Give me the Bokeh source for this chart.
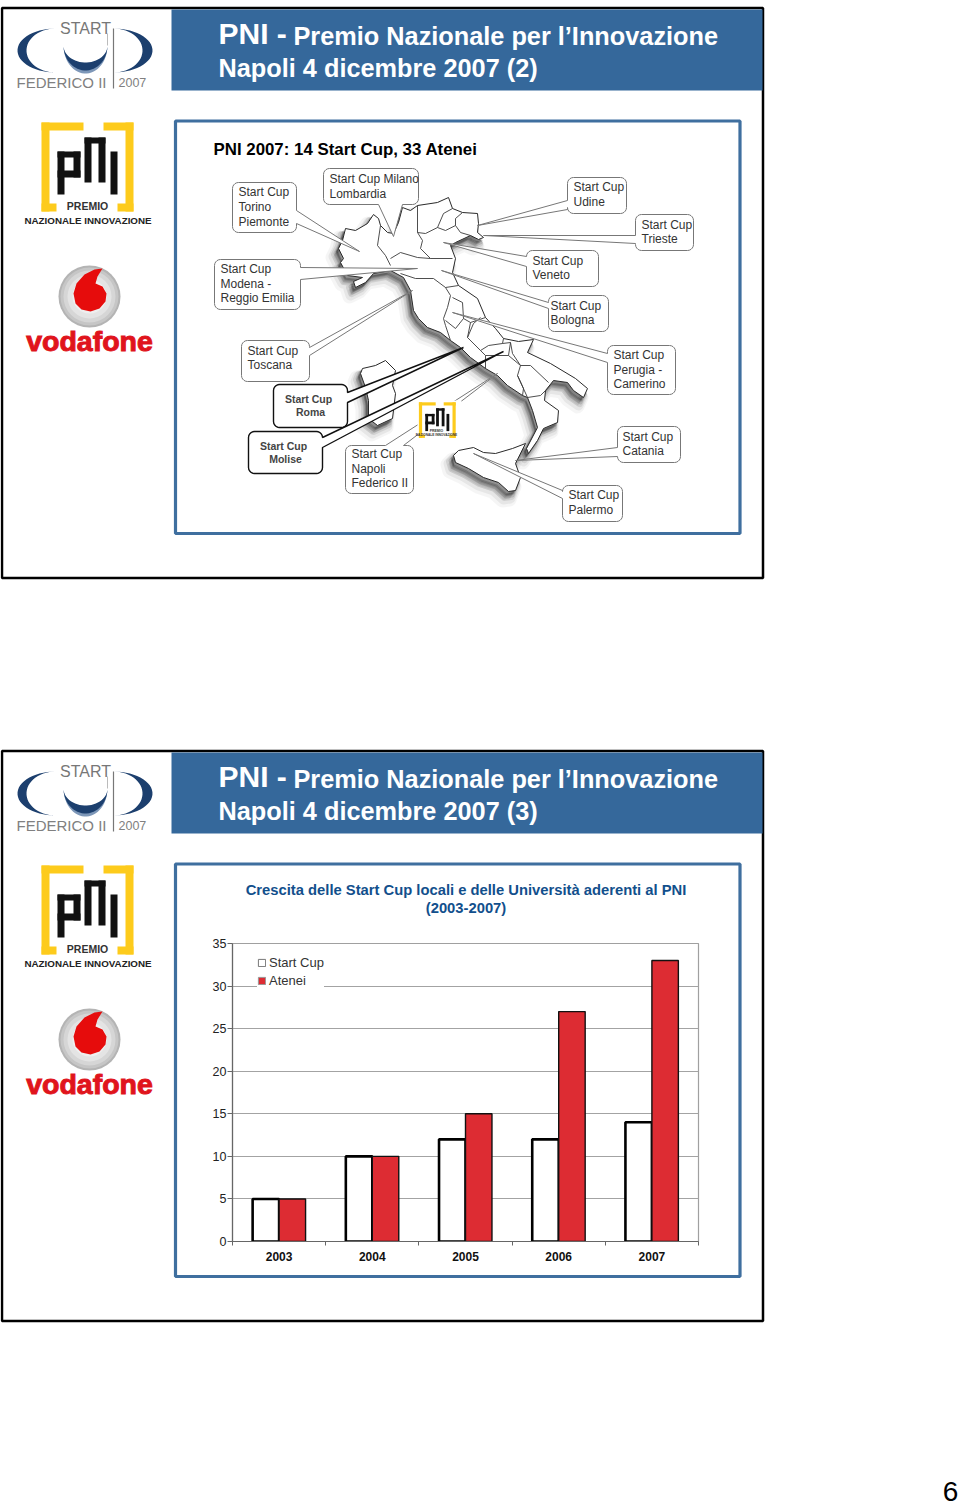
import numpy as np
from bokeh.core.properties import value
from bokeh.embed import file_html
from bokeh.layouts import column
from bokeh.models import ColumnDataSource, FixedTicker, Legend, LegendItem, LinearAxis, Range1d
from bokeh.plotting import figure
from bokeh.resources import INLINE
from bokeh.transform import dodge

# ---------- chart data ----------
YEARS = ["2003", "2004", "2005", "2006", "2007"]
START_CUP = [5, 10, 12, 12, 14]
ATENEI = [5, 10, 15, 27, 33]
Y_TICKS = [0, 5, 10, 15, 20, 25, 30, 35]
CHART_TITLE = ["Crescita delle Start Cup locali e delle Università aderenti al PNI", "(2003-2007)"]

# ---------- texts ----------
HEAD_A = "PNI - "
HEAD_B = "Premio Nazionale per l\u2019Innovazione"
HEAD_C = ["Napoli 4 dicembre 2007 (2)", "Napoli 4 dicembre 2007 (3)"]
MAP_TITLE = "PNI 2007: 14 Start Cup, 33 Atenei"

# ---------- colours ----------
BLUE = "#35689b"
FRAME = "#3f6f9f"
RED = "#dd2c33"
SANS = "Liberation Sans"

# callouts: box, pointer edge, pointer start/end along the edge, pointer tip, text lines, text x, text ys
CALLOUTS = [
    (232, 182, 296, 232, "R", 210, 223, 359, 251, ["Start Cup", "Torino", "Piemonte"], 238, [192, 207, 222]),
    (323, 168, 418, 204, "B", 378, 402, 393, 236, ["Start Cup Milano", "Lombardia"], 329, [179, 194]),
    (214, 259, 300, 309, "R", 267, 279, 417, 268, ["Start Cup", "Modena -", "Reggio Emilia"], 220, [269, 284, 298]),
    (241, 340, 309, 381, "R", 347, 355, 412, 290, ["Start Cup", "Toscana"], 247, [351, 365]),
    (345, 445, 413, 493, "T", 385, 403, 497, 373, ["Start Cup", "Napoli", "Federico II"], 351, [454, 469, 483]),
    (567, 177, 626, 213, "L", 200, 209, 477, 225, ["Start Cup", "Udine"], 573, [187, 202]),
    (635, 214, 693, 250, "L", 235, 243, 483, 235, ["Start Cup", "Trieste"], 641, [225, 239]),
    (526, 250, 598, 286, "L", 256, 266, 443, 242, ["Start Cup", "Veneto"], 532, [261, 275]),
    (548, 295, 608, 331, "L", 302, 308, 441, 270, ["Start Cup", "Bologna"], 550, [306, 320]),
    (607, 345, 675, 394, "L", 353, 362, 452, 312, ["Start Cup", "Perugia -", "Camerino"], 613, [355, 370, 384]),
    (617, 426, 680, 462, "L", 447, 456, 515, 460, ["Start Cup", "Catania"], 622, [437, 451]),
    (562, 485, 622, 521, "L", 490, 498, 473, 453, ["Start Cup", "Palermo"], 568, [495, 510]),
]
BOLD_CALLOUTS = [
    (273, 384, 347, 427, "R", 392, 402, 463, 347, ["Start Cup", "Roma"], [308, 310], [399, 412]),
    (248, 431, 322, 473, "R", 437, 447, 503, 351, ["Start Cup", "Molise"], [283, 285], [446, 459]),
]

# map outlines
MAINLAND = [(338,248),(342,240),(345,228),(355,230),(367,223),(373,214),(378,218),(380,225),(387,232),(393,233),
            (398,222),(402,207),(410,210),(417,205),(437,202),(448,197),(452,208),(462,212),(477,213),(478,223),
            (477,232),(483,237),(478,239),(470,235),(455,242),(450,245),(455,258),(452,272),(458,285),(477,298),
            (485,317),(495,328),(503,338),(518,341),(533,339),(527,352),(550,363),(575,378),(587,388),(583,397),
            (573,390),(567,382),(553,380),(545,390),(544,400),(558,410),(557,422),(543,428),(537,440),(528,453),
            (526,448),(537,427),(532,410),(527,397),(522,395),(507,385),(497,375),(485,368),(470,357),(460,347),
            (450,340),(440,332),(427,327),(418,318),(413,310),(410,290),(403,277),(390,270),(373,273),(365,282),
            (355,287),(353,281),(362,277),(347,275),(340,262),(343,258)]
SICILY = [(453,455),(458,450),(473,447),(483,452),(495,453),(512,448),(525,443),(515,463),(520,477),(515,490),
          (508,491),(498,482),(483,477),(468,468),(455,462)]
SARDINIA = [(362,368),(375,365),(385,360),(395,370),(392,385),(395,393),(392,418),(377,425),(368,418),(368,400),
            (365,387),(360,373)]
REGION_LINES = [
    [(380,225),(377,245),(385,255),(390,265)],
    [(390,258),(400,252),(417,257),(430,258),(452,258)],
    [(417,205),(417,232),(425,233),(437,227),(443,213),(452,208)],
    [(417,232),(422,240),(420,248),(430,258)],
    [(462,212),(455,218),(455,225),(460,232),(470,235)],
    [(437,227),(445,230),(455,225)],
    [(400,273),(415,278),(433,278),(445,287),(458,285)],
    [(445,287),(450,295),(447,307),(443,318),(445,325),(450,340)],
    [(452,297),(462,302),(463,318),(455,328),(445,320)],
    [(463,318),(470,322),(485,317)],
    [(470,322),(467,337),(473,323),(480,317)],
    [(467,337),(480,350),(488,345),(502,343),(503,338)],
    [(480,350),(485,355),(485,368)],
    [(502,343),(510,342),(508,355),(485,355)],
    [(508,355),(520,365),(517,375),(523,388),(522,395)],
    [(510,342),(512,353),(520,365),(530,365),(548,382)],
    [(517,375),(527,397),(540,395),(545,390)],
]


def arc(cx, cy, rx, ry, a0, a1, n=30):
    t = np.radians(np.linspace(a0, a1, n))
    return list(cx + rx * np.cos(t)), list(cy + ry * np.sin(t))


def xy(points, dy=0):
    return [p[0] for p in points], [p[1] + dy for p in points]


def callout_path(x0, y0, x1, y1, edge, a, b, tx, ty, r=6):
    xs, ys = [], []
    def add(xa, ya):
        xs.extend(xa); ys.extend(ya)
    add(*arc(x0 + r, y0 + r, r, r, 180, 270, 6))
    if edge == "T":
        add([a, tx, b], [y0, ty, y0])
    add(*arc(x1 - r, y0 + r, r, r, 270, 360, 6))
    if edge == "R":
        add([x1, tx, x1], [a, ty, b])
    add(*arc(x1 - r, y1 - r, r, r, 0, 90, 6))
    if edge == "B":
        add([b, tx, a], [y1, ty, y1])
    add(*arc(x0 + r, y1 - r, r, r, 90, 180, 6))
    if edge == "L":
        add([x0, tx, x0], [b, ty, a])
    return xs, ys


page = figure(width=960, height=1506, x_range=Range1d(0, 960), y_range=Range1d(1506, 0),
              x_axis_location=None, y_axis_location=None, toolbar_location=None, output_backend="svg",
              min_border=0, min_border_left=0, min_border_right=0, min_border_top=0, min_border_bottom=0,
              outline_line_color=None, frame_align=False)
page.grid.visible = False


def text(x, y, s, size, color="#000000", style="normal", align="left", font=SANS, outline=None):
    page.text([x], [y - 1], text=[s], text_font=value(font), text_font_size=value(f"{size}px"),
              text_color=color, text_font_style=style, text_align=align, text_baseline="middle",
              text_outline_color=outline)


def box(x0, y0, x1, y1, color):
    page.quad(left=[x0], right=[x1], top=[y0], bottom=[y1], fill_color=color, line_color=None)


def crescent(cx, cy, rx_out, ry_out, rx_in, ry_in, a0, a1, color):
    xa, ya = arc(cx, cy, rx_out, ry_out, a0, a1)
    xb, yb = arc(cx, cy, rx_in, ry_in, a1, a0)
    page.patch(xa + xb, ya + yb, fill_color=color, line_color=None)


def pni_logo(dy, x0=0.0, y0=0.0, k=1.0):
    def B(a, b, c, d, col):
        page.quad(left=[x0 + a * k], right=[x0 + c * k], top=[y0 + dy + b * k], bottom=[y0 + dy + d * k],
                  fill_color=col, line_color=None)
    Y = "#fdcb1c"
    for r in [(41, 122, 83, 130), (41, 122, 49, 211), (41, 203, 56, 211),
              (103, 122, 133, 130), (125, 122, 133, 211), (117, 203, 133, 211)]:
        B(*r, Y)
    K = "#111111"
    for r in [(57, 151, 64, 194), (57, 151, 80, 157), (73, 151, 80, 177), (57, 170, 80, 177),
              (84, 137, 91, 182), (84, 137, 105, 143), (98, 137, 105, 182), (110, 151, 117, 194)]:
        B(*r, K)


def slide(dy, idx):
    # slide border
    page.quad(left=[1.5], right=[762.5], top=[7.5 + dy], bottom=[577.5 + dy], fill_color="#ffffff",
              line_color="#000000", line_width=2.5)
    # header band
    box(171, 9 + dy, 762, 90 + dy, BLUE)
    text(218, 34 + dy, HEAD_A.strip(), 30, "#ffffff", "bold")
    text(293, 36 + dy, HEAD_B, 25.3, "#ffffff", "bold")
    text(218, 68 + dy, HEAD_C[idx], 25.3, "#ffffff", "bold")
    # content frame
    page.quad(left=[175], right=[739.5], top=[120.5 + dy], bottom=[533 + dy], fill_color="#ffffff",
              line_color=FRAME, line_width=3.2)

    # Start Cup logo
    navy = "#1c3f6e"
    crescent(55, 50 + dy, 38, 22, 29, 22, 90, 270, navy)
    crescent(113, 50 + dy, 39, 22, 29, 22, -90, 90, navy)
    crescent(85, 45 + dy, 22, 28, 22, 19, 0, 180, "#7d97b8")
    crescent(85, 45 + dy, 22, 25, 22, 17, 0, 180, navy)
    page.segment([113], [28 + dy], [113], [88 + dy], line_color="#777777", line_width=1.2)
    page.segment([107], [33 + dy], [107], [45 + dy], line_color="#bbbbbb", line_width=1)
    text(85, 29 + dy, "START", 16, "#777777", align="center")
    text(16, 83 + dy, "FEDERICO II", 15, "#808080")
    text(118, 83 + dy, "2007", 12.5, "#808080")

    # PNI logo
    pni_logo(dy)
    text(87, 206 + dy, "PREMIO", 10.5, "#333333", "bold", "center")
    text(87.5, 221 + dy, "NAZIONALE INNOVAZIONE", 9.8, "#222222", "bold", "center")

    # Vodafone logo
    for r, col in [(31, "#b4b4b4"), (29, "#c6c6c6"), (26, "#d6d6d6"), (22, "#e4e4e4"), (17, "#efefef")]:
        page.scatter([89], [296 + dy], size=2 * r, marker="circle", fill_color=col, line_color=None)
    drop = [(102, 268), (94, 269), (84, 274), (76, 283), (73, 293), (75, 303), (81, 309), (90, 311), (99, 308),
            (105, 301), (106, 293), (102, 286), (95, 283), (97, 276)]
    page.patch(*xy(drop, dy), fill_color="#e60c0c", line_color=None)
    text(89, 341 + dy, "vodafone", 28.5, "#e0141c", "bold", "center", outline="#e0141c")


slide(0, 0)
slide(743, 1)

# map shadow
SHADOW_LAYERS = [((-6, 9), 14, 0.04), ((-5, 8), 10, 0.06), ((-4, 6), 7, 0.09), ((-3, 5), 4, 0.13), ((-2, 3), 2, 0.2)]
for poly in (MAINLAND, SICILY, SARDINIA):
    px, py = xy(poly)
    for off, width, alpha in SHADOW_LAYERS:
        page.patch([a + off[0] for a in px], [b + off[1] for b in py], fill_color="#000000", fill_alpha=alpha,
                   line_color="#000000", line_alpha=alpha, line_width=width, line_join="round")
for poly in (MAINLAND, SICILY, SARDINIA):
    page.patch(*xy(poly), fill_color="#ffffff", line_color="#2a2a2a", line_width=1, line_join="round")
page.multi_line([xy(l)[0] for l in REGION_LINES], [xy(l)[1] for l in REGION_LINES], line_color="#3a3a3a",
                line_width=0.9, line_join="round")

text(213, 150, MAP_TITLE, 16.85, "#000000", "bold")

for c in CALLOUTS:
    x0, y0, x1, y1, edge, a, b, tx, ty, lines, lx, lys = c
    page.patch(*callout_path(x0, y0, x1, y1, edge, a, b, tx, ty), fill_color="#ffffff", line_color="#777777", line_width=1)
    for s, ly in zip(lines, lys):
        text(lx, ly, s, 12, "#333333")
for c in BOLD_CALLOUTS:
    x0, y0, x1, y1, edge, a, b, tx, ty, lines, lxs, lys = c
    page.patch(*callout_path(x0, y0, x1, y1, edge, a, b, tx, ty), fill_color="#ffffff", line_color="#111111", line_width=1.4)
    for s, lx, ly in zip(lines, lxs, lys):
        text(lx, ly, s, 10.5, "#444444", "bold", "center")

# small logo on the map
page.quad(left=[417], right=[461], top=[400], bottom=[438], fill_color="#ffffff", line_color=None)
pni_logo(0, 402.0, 353.0, 0.4)
text(436, 431, "PREMIO", 3.4, "#333333", "bold", "center")
text(436, 435, "NAZIONALE INNOVAZIONE", 3.2, "#333333", "bold", "center")

text(465.5, 890, CHART_TITLE[0], 14.77, "#124f8c", "bold", "center")
text(465.5, 908, CHART_TITLE[1], 14.77, "#124f8c", "bold", "center")

text(950, 1492, "6", 28, "#000000", align="center")

# ---------- the bar chart, laid over the second slide ----------
CH_LEFT, CH_TOP = 180, 870
positions = [i + 0.5 for i in range(len(YEARS))]
boundaries = list(range(len(YEARS) + 1))
source = ColumnDataSource(dict(pos=positions, start=START_CUP, atenei=ATENEI))
chart = figure(width=548, height=405, x_range=Range1d(0, len(YEARS)), y_range=Range1d(0, 35),
               toolbar_location=None, output_backend="svg", min_border_left=52, min_border_right=30,
               min_border_top=73, min_border_bottom=34, background_fill_color=None, border_fill_color=None,
               outline_line_color="#a0a0a0", outline_line_width=1.2, frame_align=False,
               margin=(CH_TOP - 1506, 0, 0, CH_LEFT))

chart.xgrid.visible = False
chart.ygrid.ticker = FixedTicker(ticks=Y_TICKS)
chart.ygrid.grid_line_color = "#a3a3a3"
chart.ygrid.grid_line_width = 1.2

ax = chart.yaxis[0]
ax.ticker = FixedTicker(ticks=Y_TICKS)
ax.major_label_text_font = SANS
ax.major_label_text_font_size = "12.5px"
ax.major_label_text_color = "#222222"
ax.axis_line_color = "#666666"
ax.axis_line_width = 1.2
ax.major_tick_line_color = "#666666"
ax.major_tick_in = 0
ax.major_tick_out = 5
ax.minor_tick_line_color = None
ax.major_label_standoff = 1

# year labels, centred under the groups, without tick marks
xa = chart.xaxis[0]
xa.ticker = FixedTicker(ticks=positions)
xa.major_label_overrides = dict(zip(positions, YEARS))
xa.major_label_text_font = SANS
xa.major_label_text_font_size = "12px"
xa.major_label_text_font_style = "bold"
xa.major_label_text_color = "#111111"
xa.axis_line_color = None
xa.major_tick_line_color = None
xa.major_tick_out = 0
xa.major_tick_in = 0
xa.minor_tick_line_color = None
xa.major_label_standoff = 1

# second axis: only the line and the ticks at the group boundaries
tick_axis = LinearAxis(ticker=FixedTicker(ticks=boundaries),
                       major_label_overrides={b: " " for b in boundaries}, major_label_text_font_size="2px",
                       major_tick_in=0, major_tick_out=4,
                       major_tick_line_color="#666666", axis_line_color="#666666", axis_line_width=1.2,
                       minor_tick_line_color=None, major_label_standoff=0)
chart.add_layout(tick_axis, "below")
chart.below = [tick_axis, xa]

BW = 0.284
chart.vbar(x=dodge("pos", -BW / 2), top="start", width=BW, bottom=0, source=source,
           fill_color="#ffffff", line_color="#000000", line_width=2.6)
chart.vbar(x=dodge("pos", BW / 2), top="atenei", width=BW, bottom=0, source=source,
           fill_color=RED, line_color="#111111", line_width=1.4)

key_src = ColumnDataSource(dict(x=[-1], top=[0]))
key_a = chart.vbar(x="x", top="top", width=BW, source=key_src, fill_color="#ffffff", line_color="#777777", line_width=1)
key_b = chart.vbar(x="x", top="top", width=BW, source=key_src, fill_color=RED, line_color="#999999", line_width=1)
legend = Legend(items=[LegendItem(label="Start Cup", renderers=[key_a]), LegendItem(label="Atenei", renderers=[key_b])],
                location=(25, 253), orientation="vertical", background_fill_color="#ffffff", background_fill_alpha=1,
                border_line_color=None, label_text_font=SANS, label_text_font_size="13px", label_text_color="#333333",
                glyph_width=9, glyph_height=9, label_standoff=3, spacing=3, padding=5, margin=0,
                label_height=14)
chart.add_layout(legend, "center")

layout = column(page, chart, spacing=0, styles={"position": "absolute", "left": "0px", "top": "0px"})
open("out.html", "w").write(file_html(layout, INLINE))
